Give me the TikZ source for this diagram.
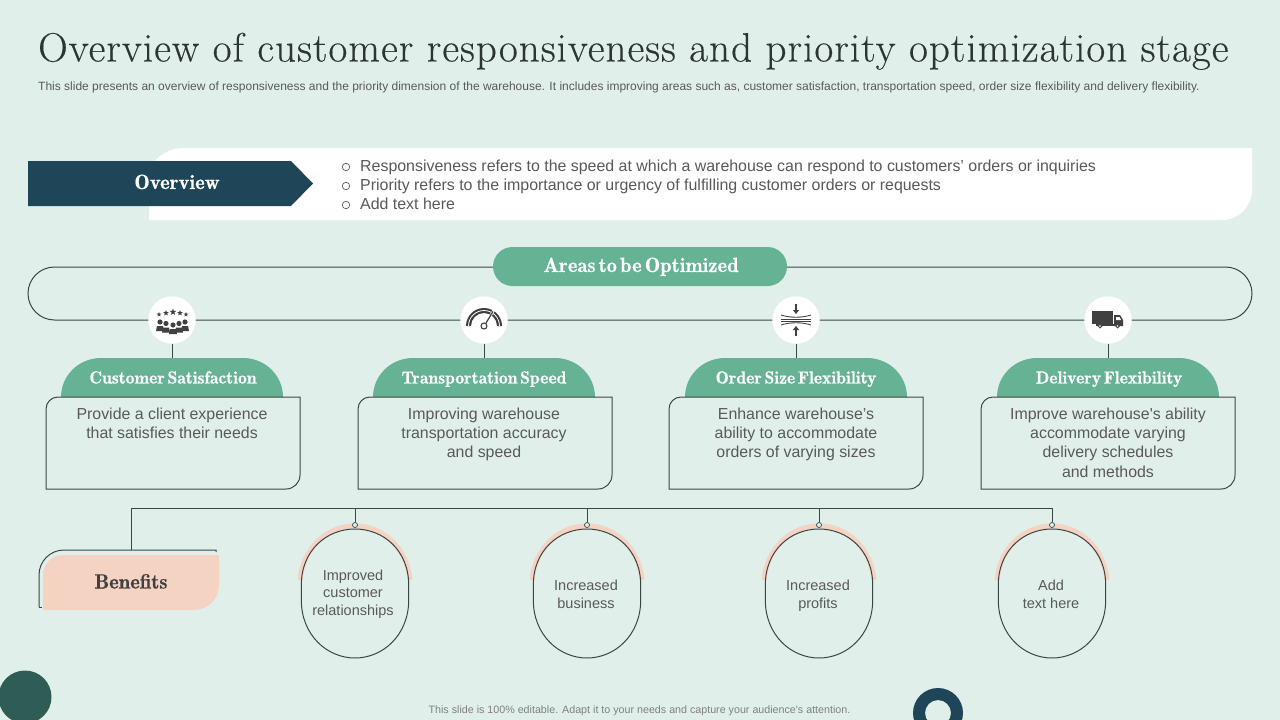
\documentclass[tikz,border=0pt]{standalone}
\usepackage{fontspec}
\usepackage{xcolor}
\usepackage{tikz}
\usetikzlibrary{arrows.meta,positioning,calc,shapes.geometric}
\newfontfamily\bodyfont{Liberation Sans}
\newfontfamily\titlefont[LetterSpace=2.6,FakeBold=0.3]{Latin Modern Roman}
\newfontfamily\headfont[FakeBold=0.4,WordSpace=0.45]{Latin Modern Roman Demi}
\definecolor{pagebg}{HTML}{E1EFEA}
\definecolor{deepblue}{HTML}{1F4658}
\definecolor{deepgreen}{HTML}{2F5D55}
\definecolor{softgreen}{HTML}{66B295}
\definecolor{softpink}{HTML}{F4D3C3}
\definecolor{linegray}{HTML}{3D4543}
\definecolor{titleink}{HTML}{2B3533}
\definecolor{bodygray}{HTML}{595959}
\definecolor{iconink}{HTML}{404040}
\tikzset{
  bodytxt/.style={font=\bodyfont\fontsize{15.9}{19.1}\selectfont, text=bodygray, align=center, inner sep=0pt},
  ovaltxt/.style={font=\bodyfont\fontsize{14.5}{17.7}\selectfont, text=bodygray, align=center, inner sep=0pt},
  headtxt/.style={font=\headfont\fontsize{17.6}{20}\selectfont, text=white, inner sep=0pt, anchor=base},
  bighead/.style={font=\headfont\fontsize{20.6}{24}\selectfont, inner sep=0pt, anchor=base},
  ln/.style={draw=linegray, line width=1pt},
  iconbg/.style={circle, fill=white, minimum size=47.5pt, inner sep=0pt},
  bullet/.style={circle, draw=bodygray, line width=.7pt, minimum size=7.5pt, inner sep=0pt},
  bulltxt/.style={font=\bodyfont\fontsize{15.93}{19}\selectfont, text=bodygray, inner sep=0pt, anchor=base west},
  dotnode/.style={circle, draw=linegray, fill=pagebg, line width=.7pt, minimum size=5pt, inner sep=0pt},
  starmark/.style={star, star points=5, star point ratio=2.4, fill=iconink, inner sep=0pt},
}
% dome on top of each text box
\newcommand{\headdome}[1]{
  \fill[softgreen] (#1-111,397) arc[start angle=180, end angle=270, x radius=40, y radius=39]
    -- (#1+71,358) arc[start angle=270, end angle=360, x radius=40, y radius=39] -- cycle;
}
\newcommand{\textbox}[1]{
  \draw[ln] (#1-114,397) -- (#1+128,397) -- (#1+128,475) arc[start angle=0, end angle=90, radius=14]
    -- (#1-126,489) -- (#1-126,409) arc[start angle=180, end angle=270, radius=12] -- cycle;
}
\newcommand{\ovalshape}[1]{
  \draw[ln] (#1-53.7,600) -- (#1-53.7,585) .. controls (#1-53.7,550) and (#1-28,529) .. (#1,529)
    .. controls (#1+28,529) and (#1+53.7,550) .. (#1+53.7,585) -- (#1+53.7,600)
    .. controls (#1+53.7,635) and (#1+28,658) .. (#1,658)
    .. controls (#1-28,658) and (#1-53.7,635) .. (#1-53.7,600) -- cycle;
}
\newcommand{\ovalarc}[1]{
  \draw[softpink, line width=5pt] (#1-55,580) .. controls (#1-52,548) and (#1-28,526) .. (#1,526)
    .. controls (#1+28,526) and (#1+52,548) .. (#1+55,580);
}
\begin{document}
\begin{tikzpicture}[x=1pt,y=-1pt]
  \fill[pagebg] (0,0) rectangle (1280,720);
  \useasboundingbox (0,0) rectangle (1280,720);
  \begin{scope}
    \clip (0,0) rectangle (1280,720);
    \fill[deepgreen] (25,697) circle[radius=26.5];
    \fill[deepblue, even odd rule] (938,713) circle[radius=25] (938,713) circle[radius=13];
  \end{scope}

  \node[anchor=base west, font=\titlefont\fontsize{41}{46}\selectfont, text=titleink, inner sep=0pt] (title) at (38,61.5)
    {Overview of customer responsiveness and priority optimization stage};
  \node[anchor=west, font=\bodyfont\fontsize{12}{14}\selectfont, text=bodygray, inner sep=0pt] (subtitle) at (38,87)
    {This slide presents an overview of responsiveness and the priority dimension of the warehouse. It includes improving areas such as,  customer satisfaction, transportation speed, order size flexibility and delivery flexibility.};

  % overview band
  \fill[white] (149,220) -- (149,178) arc[start angle=180, end angle=270, x radius=35, y radius=30]
    -- (1252,148) -- (1252,190) arc[start angle=0, end angle=90, x radius=30, y radius=30] -- cycle;
  \fill[deepblue] (28,161) -- (291,161) -- (313,183.5) -- (291,206) -- (28,206) -- cycle;
  \node[bighead, text=white] (overview) at (177,189) {Overview};
  \node[bullet] (b1) at (346,167) {};
  \node[bullet] (b2) at (346,186) {};
  \node[bullet] (b3) at (346,205) {};
  \node[bulltxt] (t1) at (360,171) {Responsiveness refers to the speed at which a warehouse can respond to customers’ orders or inquiries};
  \node[bulltxt] (t2) at (360,190) {Priority refers to the importance or urgency of fulfilling customer orders or requests};
  \node[bulltxt] (t3) at (360,209) {Add text here};

  % areas frame
  \draw[ln] (54.5,267) -- (1225.5,267) arc[start angle=-90, end angle=90, radius=26.5]
    -- (54.5,320) arc[start angle=90, end angle=270, radius=26.5] -- cycle;
  \fill[softgreen, rounded corners=19.5pt] (493,247) rectangle (787,286);
  \node[bighead, text=white] (areas) at (641,272) {Areas to be Optimized};

  % four columns
  \foreach \cx/\bx/\nm in {172/172/a,484/484/b,796/795/c,1108/1107/d}{
    \headdome{\cx}
    \textbox{\bx}
    \node[iconbg] (icon\nm) at (\cx,320) {};
    \coordinate (dome\nm) at (\cx,358);
    \draw[ln] (icon\nm) -- (dome\nm);
  }
  \node[headtxt] (ha) at (173,383.5) {Customer Satisfaction};
  \node[headtxt] (hb) at (484,383.5) {Transportation Speed};
  \node[headtxt] (hc) at (796,383.5) {Order Size Flexibility};
  \node[headtxt] (hd) at (1109,383.5) {Delivery Flexibility};
  \node[bodytxt, anchor=north] (ta) at (172,408) {Provide a client experience\\that satisfies their needs};
  \node[bodytxt, anchor=north] (tb) at (484,408) {Improving warehouse\\transportation accuracy\\and speed};
  \node[bodytxt, anchor=north] (tc) at (796,408) {Enhance warehouse’s\\ability to accommodate\\orders of varying sizes};
  \node[bodytxt, anchor=north] (td) at (1108,408) {Improve warehouse's ability\\accommodate varying\\delivery schedules\\and methods};

  % icons
  \foreach \sx/\sy/\sz in {159/314.5/5,166/313/6,173/312/7,180/313/6,186/314.5/5}
    \node[starmark, minimum size=\sz pt] at (\sx,\sy) {};
  \foreach \px/\py in {160/322,166/323.5,173/325,179/323.5,185/322}{
    \fill[iconink] (\px,\py) circle[radius=2.6];
    \fill[iconink] (\px-4,\py+9) -- (\px-3,\py+4) -- (\px+3,\py+4) -- (\px+4,\py+9) -- cycle;
  }
  \fill[iconink] (466,326) arc[start angle=180, end angle=360, radius=18] -- (497,326)
    arc[start angle=360, end angle=180, radius=13] -- cycle;
  \draw[white, line width=.8pt] (468.5,326) arc[start angle=180, end angle=360, radius=15.5];
  \draw[white, line width=2.4pt] (486,323) -- (494,310);
  \draw[iconink, line width=1.2pt] (486,323) -- (493,311.5);
  \draw[iconink, line width=1.1pt, fill=white] (484,326) circle[radius=3];
  \foreach \ya/\yb in {304/314,336/326}{
    \draw[iconink, line width=2pt, -{Triangle[length=4pt,width=6pt]}] (796,\ya) -- (796,\yb);
  }
  \draw[iconink, line width=.9pt] (781,315) .. controls (790,318) and (802,318) .. (811,315);
  \draw[iconink, line width=.9pt] (781,319) -- (811,319) (781,321) -- (811,321);
  \draw[iconink, line width=.9pt] (781,325) .. controls (790,322) and (802,322) .. (811,325);
  \fill[iconink] (1092,311) rectangle (1113,324);
  \fill[iconink] (1114,315) -- (1120,315) -- (1123,320) -- (1123,326) -- (1114,326) -- cycle;
  \fill[white] (1116,317) -- (1119.5,317) -- (1121,320) -- (1116,320) -- cycle;
  \fill[iconink] (1096,324) rectangle (1120,326);
  \foreach \wx in {1100,1117.5}
    \draw[iconink, line width=1pt, fill=white] (\wx,326) circle[radius=1.8];

  % benefits
  \draw[ln] (39,607) -- (39,575) arc[start angle=180, end angle=270, radius=25] -- (216,550) -- (216,552);
  \draw[ln] (39,607) -- (42,607);
  \fill[softpink] (43,610) -- (43,575) arc[start angle=180, end angle=270, radius=20]
    -- (219,555) -- (219,585) arc[start angle=0, end angle=90, radius=25] -- cycle;
  \node[bighead, text=iconink] (benefits) at (131,588.5) {Benefits};
  \coordinate (bustop) at (131,508);
  \coordinate (benefitstop) at (131,550);
  \coordinate (busend) at (1052,508);
  \draw[ln] (benefitstop) -- (bustop) -- (busend);
  \foreach \cx/\nm in {355/a,587/b,819/c,1052/d}{
    \ovalarc{\cx}
    \ovalshape{\cx}
    \node[dotnode] (dot\nm) at (\cx,525) {};
    \coordinate (bus\nm) at (\cx,508);
    \draw[ln] (bus\nm) -- (dot\nm);
  }
  \node[ovaltxt] (oa) at (353,594) {Improved\\customer\\relationships};
  \node[ovaltxt] (ob) at (586,594) {Increased\\business};
  \node[ovaltxt] (oc) at (818,596) {Increased\\profits};
  \node[ovaltxt] (od) at (1051,594) {Add\\text here};

  \node[font=\bodyfont\fontsize{10.7}{12}\selectfont, text=gray, inner sep=0pt] (footer) at (639.5,710.5)
    {This slide is 100\% editable.  Adapt it to your needs and capture your audience's attention.};
\end{tikzpicture}
\end{document}
